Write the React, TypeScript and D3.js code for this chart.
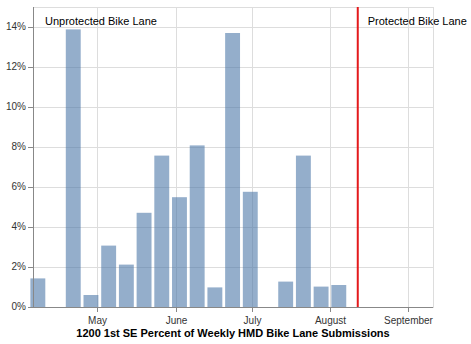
import React from "react";
import * as d3 from "d3";

const weekStarts: string[] = [
  "2019-04-04", "2019-04-11", "2019-04-18", "2019-04-25", "2019-05-02", "2019-05-09",
  "2019-05-16", "2019-05-23", "2019-05-30", "2019-06-06", "2019-06-13", "2019-06-20",
  "2019-06-27", "2019-07-04", "2019-07-11", "2019-07-18", "2019-07-25", "2019-08-01",
];
const percents: number[] = [
  1.43, 0, 13.88, 0.6, 3.07, 2.12, 4.71, 7.57, 5.49, 8.08, 0.98, 13.7, 5.76, 0, 1.27, 7.57, 1.02, 1.1,
];
const changeDate = "2019-08-12";
const yTicks: number[] = [0, 2, 4, 6, 8, 10, 12, 14];
const monthTicks: string[] = ["2019-05-01", "2019-06-01", "2019-07-01", "2019-08-01", "2019-09-01"];
const xTitle = "1200 1st SE Percent of Weekly HMD Bike Lane Submissions";
const leftLabel = "Unprotected Bike Lane";
const rightLabel = "Protected Bike Lane";

const parse = (s: string) => {
  const [y, m, d] = s.split("-").map(Number);
  return new Date(y, m - 1, d);
};

export default function App() {
  const W = 471, H = 344;
  const L = 33, R = 433, T = 7, B = 307;
  const x = d3.scaleTime()
    .domain([new Date(2019, 3, 5, 14), new Date(2019, 8, 10, 18)])
    .range([L, R]);
  const y = d3.scaleLinear().domain([0, 15]).range([B, T]);
  const font = "'Liberation Sans', Arial, sans-serif";
  const fmtMonth = d3.timeFormat("%B");

  return (
    <svg width={W} height={H} style={{ position: "absolute", left: 0, top: 0 }}>
      <rect x={0} y={0} width={W} height={H} fill="#fff" />
      {/* grid */}
      {yTicks.map((t) => (
        <line key={"gy" + t} x1={L} x2={R} y1={y(t) + 0.5} y2={y(t) + 0.5} stroke="#ddd" />
      ))}
      {monthTicks.map((m) => (
        <line key={"gx" + m} x1={Math.round(x(parse(m))) + 0.5} x2={Math.round(x(parse(m))) + 0.5} y1={T} y2={B} stroke="#ddd" />
      ))}
      {/* view border */}
      <rect x={L + 0.5} y={T + 0.5} width={R - L} height={B - T} fill="none" stroke="#ddd" />
      {/* bars */}
      {weekStarts.map((w, i) => {
        const s = parse(w);
        const e = d3.timeDay.offset(s, 7);
        const x0 = x(s) + 1.4;
        const x1 = x(e) - 1.4;
        const v = percents[i];
        if (v <= 0) return null;
        return (
          <rect key={w} x={x0} y={y(v)} width={x1 - x0} height={B - y(v)} fill="#4c78a8" fillOpacity={0.6} />
        );
      })}
      {/* red line */}
      <line x1={x(parse(changeDate))} x2={x(parse(changeDate))} y1={T} y2={B} stroke="#e41a1c" strokeWidth={2} />
      {/* axes */}
      <line x1={L + 0.5} x2={L + 0.5} y1={T} y2={B} stroke="#888" />
      <line x1={L} x2={R} y1={B + 0.5} y2={B + 0.5} stroke="#888" />
      {yTicks.map((t) => (
        <g key={"ty" + t}>
          <line x1={L - 5} x2={L} y1={y(t) + 0.5} y2={y(t) + 0.5} stroke="#888" />
          <text x={L - 7} y={y(t)} dy="0.32em" textAnchor="end" fontSize={10} fontFamily={font} fill="#333">
            {t + "%"}
          </text>
        </g>
      ))}
      {monthTicks.map((m) => {
        const px = Math.round(x(parse(m))) + 0.5;
        return (
          <g key={"tx" + m}>
            <line x1={px} x2={px} y1={B} y2={B + 5} stroke="#888" />
            <text x={px} y={B + 14} dy="0.32em" textAnchor="middle" fontSize={10} fontFamily={font} fill="#333">
              {fmtMonth(parse(m))}
            </text>
          </g>
        );
      })}
      <text x={(L + R) / 2} y={336.5} textAnchor="middle" fontSize={11} fontWeight="bold" fontFamily={font} fill="#000">
        {xTitle}
      </text>
      <text x={45} y={25} fontSize={11} fontFamily={font} fill="#000">{leftLabel}</text>
      <text x={x(parse(changeDate)) + 10} y={25} fontSize={11} fontFamily={font} fill="#000">{rightLabel}</text>
    </svg>
  );
}
